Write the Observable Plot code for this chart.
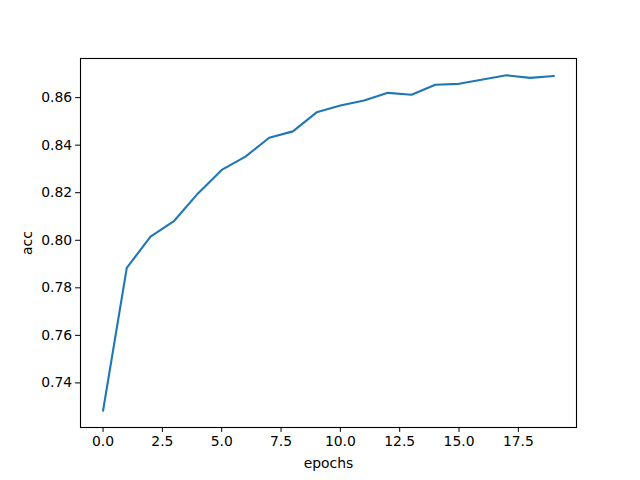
<!DOCTYPE html>
<html>
<head>
<meta charset="utf-8">
<script src="https://cdn.jsdelivr.net/npm/d3@7"></script>
<script src="https://cdn.jsdelivr.net/npm/@observablehq/plot@0.6"></script>
<style>
  html, body { margin: 0; padding: 0; background: #fff; }
</style>
</head>
<body>
<div id="chart"></div>
<script>
const epochs = [0,1,2,3,4,5,6,7,8,9,10,11,12,13,14,15,16,17,18,19];
const acc = [0.7283,0.7884,0.8015,0.8082,0.8197,0.8296,0.8352,0.8431,0.8458,0.8538,
             0.8567,0.8588,0.8620,0.8612,0.8654,0.8658,0.8676,0.8694,0.8683,0.8691];
const xTicks = [0,2.5,5,7.5,10,12.5,15,17.5];
const yTicks = [0.74,0.76,0.78,0.80,0.82,0.84,0.86];

const data = epochs.map((e,i) => ({epoch: e, acc: acc[i]}));
const xmin = d3.min(epochs), xmax = d3.max(epochs);
const ymin = d3.min(acc), ymax = d3.max(acc);
const xm = (xmax - xmin) * 0.05, ym = (ymax - ymin) * 0.05;

const chart = Plot.plot({
  width: 640,
  height: 480,
  marginLeft: 80,
  marginRight: 64,
  marginTop: 58,
  marginBottom: 53,
  style: {fontFamily: "DejaVu Sans", fontSize: "13.9px", background: "#fff", color: "#000"},
  x: {domain: [xmin - xm, xmax + xm]},
  y: {domain: [ymin - ym, ymax + ym]},
  marks: [
    Plot.axisX({ticks: xTicks, tickFormat: d3.format(".1f"), tickSize: 4.9, tickPadding: 3.5,
      label: "epochs", labelAnchor: "center", labelArrow: "none", labelOffset: 40, fontSize: 13.9}),
    Plot.axisY({ticks: yTicks, tickFormat: d3.format(".2f"), tickSize: 4.9, tickPadding: 3.5,
      label: "acc", labelAnchor: "center", labelArrow: "none", labelOffset: 58, fontSize: 13.9}),
    Plot.line(data, {x: "epoch", y: "acc", stroke: "#1f77b4", strokeWidth: 2.1}),
    Plot.frame({stroke: "#000", strokeWidth: 1.1})
  ]
});
document.getElementById("chart").appendChild(chart);
</script>
</body>
</html>
